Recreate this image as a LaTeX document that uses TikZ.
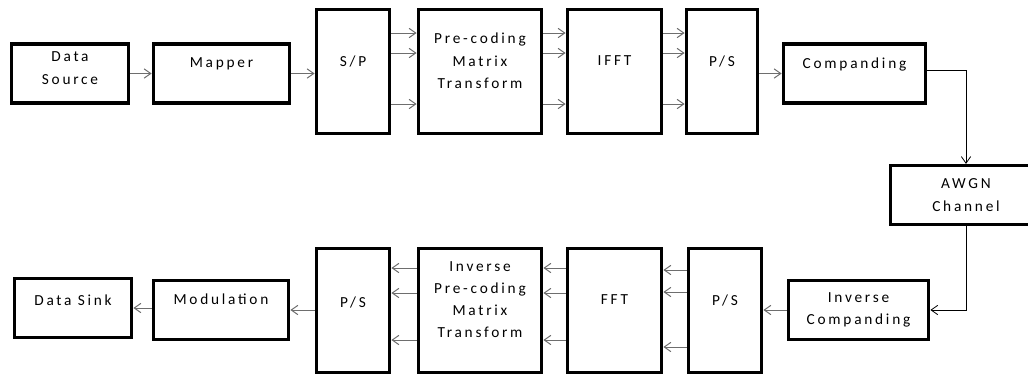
\documentclass[tikz,border=0pt]{standalone}
\usepackage{fontspec}
\setmainfont{Carlito}[LetterSpace=18]
\usepackage{xcolor}
\usepackage{tikz}
\usetikzlibrary{arrows.meta, positioning}
\definecolor{arrowcol}{RGB}{110,110,110}

\begin{document}
\begin{tikzpicture}[
  x=0.75pt, y=-0.75pt,
  font=\fontsize{11.5}{17}\selectfont,
  blk/.style={draw=black, line width=2.6pt, fill=white, align=center,
              inner sep=2pt, text depth=16pt,
              minimum height=44pt},
  tall/.style={blk, minimum height=93pt},
  sig/.style={-{Straight Barb[length=5pt, width=7pt]}, line width=0.75pt, arrowcol},
  chan/.style={-{Straight Barb[length=5pt, width=7pt]}, line width=0.6pt, black}
]
  \useasboundingbox (0,0) rectangle (1028,376);

  \node[blk, minimum width=88pt, text depth=8pt] (dsrc) at (70,73.5)
    {Data\\Source};
  \node[blk, minimum width=102.25pt] (mapper) at (221.5,73.5) {Mapper};
  \node[tall, minimum width=55pt] (sp) at (353,71.5) {S/P};
  \node[tall, minimum width=92.5pt] (prec) at (480,71.5)
    {Pre-coding\\Matrix\\Transform};
  \node[tall, minimum width=70.75pt] (ifft) at (614.5,71.5) {IFFT};
  \node[tall, minimum width=53.5pt] (ps1) at (722,71.5) {P/S};
  \node[blk, minimum width=106.75pt] (comp) at (854.5,73.5) {Companding};
  \node[blk, minimum width=113pt, text depth=] (awgn) at (966,195)
    {AWGN\\Channel};

  \node[blk, minimum width=88pt, text depth=12pt] (sink) at (73,308)
    {Data Sink};
  \node[blk, minimum width=101.5pt] (modu) at (221,310) {Modulation};
  \node[tall, minimum width=55pt, text depth=12pt] (ps2) at (353,310.5) {P/S};
  \node[tall, minimum width=92.5pt, font=\fontsize{11.5}{16.5}\selectfont] (iprec) at (480,310.5)
    {Inverse\\Pre-coding\\Matrix\\Transform};
  \node[tall, minimum width=70.75pt] (fft) at (614.5,310.5) {FFT};
  \node[tall, minimum width=55pt] (ps3) at (725,310.5) {P/S};
  \node[blk, minimum width=105.25pt, text depth=] (icomp) at (858.5,310)
    {Inverse\\Companding};

  \draw[sig] (dsrc) -- (mapper);
  \draw[sig] (mapper.east) -- (mapper.east -| sp.west);
  \foreach \yy in {33,53,104} {
    \draw[sig] (sp.east |- 0,\yy) -- (prec.west |- 0,\yy);
    \draw[sig] (prec.east |- 0,\yy) -- (ifft.west |- 0,\yy);
    \draw[sig] (ifft.east |- 0,\yy) -- (ps1.west |- 0,\yy);
  }
  \draw[sig] (ps1.east |- comp.west) -- (comp.west);
  \draw[chan] (comp.east |- 0,70) -| (awgn.north);
  \draw[chan] (awgn.south) |- (icomp.east);

  \draw[sig] (icomp.west) -- (icomp.west -| ps3.east);
  \foreach \yy/\zz in {270/268,292/293,347/340} {
    \draw[sig] (ps3.west |- 0,\yy) -- (fft.east |- 0,\yy);
    \draw[sig] (fft.west |- 0,\zz) -- (iprec.east |- 0,\zz);
    \draw[sig] (iprec.west |- 0,\zz) -- (ps2.east |- 0,\zz);
  }
  \draw[sig] (ps2.west |- modu.east) -- (modu.east);
  \draw[sig] (modu.west |- 0,308) -- (sink.east |- 0,308);
\end{tikzpicture}
\end{document}
